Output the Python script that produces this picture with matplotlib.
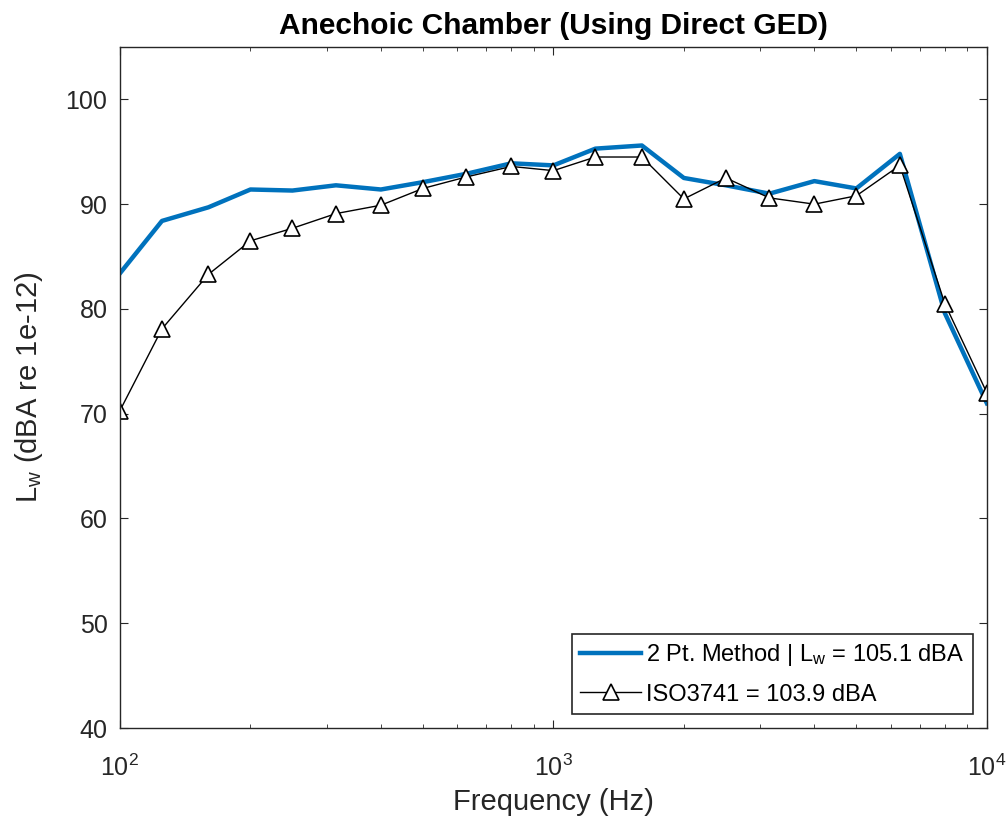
import matplotlib
matplotlib.use("Agg")
import matplotlib.pyplot as plt
from matplotlib.ticker import FixedLocator, LogLocator, NullFormatter

plt.rcParams['font.family'] = ['Liberation Sans', 'DejaVu Sans']
plt.rcParams['mathtext.default'] = 'regular'

freqs = [100, 125, 160, 200, 250, 315, 400, 500, 630, 800, 1000, 1250, 1600,
         2000, 2500, 3150, 4000, 5000, 6300, 8000, 10000]
lw_2pt = [83.4, 88.4, 89.7, 91.4, 91.3, 91.8, 91.4, 92.1, 92.9, 93.9, 93.7, 95.3, 95.6,
          92.5, 91.8, 91.0, 92.2, 91.5, 94.8, 79.6, 71.0]
lw_iso = [70.3, 78.1, 83.3, 86.5, 87.7, 89.1, 89.9, 91.5, 92.6, 93.6, 93.2, 94.5, 94.5,
          90.5, 92.5, 90.6, 90.0, 90.8, 93.7, 80.5, 72.0]
label_2pt = '2 Pt. Method | L$_w$ = 105.1 dBA'
label_iso = 'ISO3741 = 103.9 dBA'
yticks = [40, 50, 60, 70, 80, 90, 100]

fig = plt.figure(figsize=(10.08, 8.26), dpi=100)
ax = fig.add_axes([0.119, 0.1186, 0.860, 0.8245])

ax.plot(freqs, lw_2pt, color='#0072BD', lw=3.2, label=label_2pt)
ax.plot(freqs, lw_iso, color='black', lw=1.0, marker='^', markersize=12,
        markerfacecolor='white', markeredgecolor='black', markeredgewidth=1.2,
        label=label_iso)

ax.set_xscale('log')
ax.set_xlim(100, 10000)
ax.set_ylim(40, 105)
ax.yaxis.set_major_locator(FixedLocator(yticks))
ax.xaxis.set_minor_locator(LogLocator(base=10, subs=range(2, 10)))
ax.xaxis.set_minor_formatter(NullFormatter())

ax.tick_params(which='both', direction='in', top=True, right=True,
               labelsize=18, colors='#262626', labelcolor='#262626')
ax.tick_params(which='major', length=6, width=0.8)
ax.tick_params(which='minor', length=3, width=0.6)
ax.tick_params(axis='x', which='major', pad=19)
ax.tick_params(axis='y', which='major', pad=9)
for s in ax.spines.values():
    s.set_linewidth(1.0)
    s.set_color('#262626')

ax.set_title('Anechoic Chamber (Using Direct GED)', fontsize=21.5, fontweight='bold', pad=9)
ax.set_xlabel('Frequency (Hz)', fontsize=21, color='#262626', labelpad=5)
ax.set_ylabel('L$_w$ (dBA re 1e-12)', fontsize=21, color='#262626', labelpad=15)

leg = ax.legend(loc='lower right', fontsize=17, frameon=True, fancybox=False,
                edgecolor='#262626', framealpha=1, borderaxespad=0.6,
                handlelength=2.6, handletextpad=0.2, borderpad=0.35, labelspacing=0.65)
leg.get_frame().set_linewidth(1.2)

fig.savefig('out.png', dpi=100)
